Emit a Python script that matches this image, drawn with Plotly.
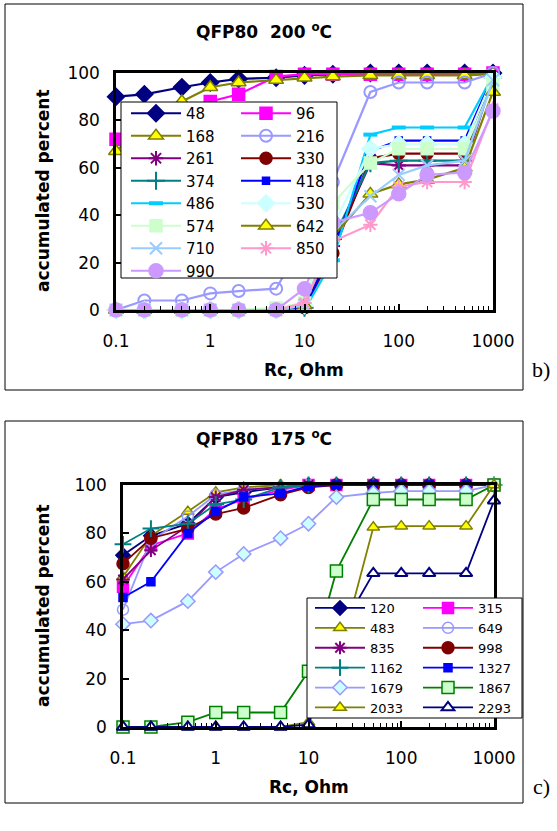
import plotly.graph_objects as go

W, H = 557, 831

# ---------------- data ----------------
rc = [0.1, 0.2, 0.5, 1, 2, 5, 10, 20, 50, 100, 200, 500, 1000]

# QFP80 200 C
t200_48  = [90, 91, 94, 96, 97.5, 98, 99, 99.5, 100, 100, 100, 100, 100]
t200_96  = [72, 78, 84, 88, 91, 98.5, 99.5, 99.5, 99.5, 99.5, 99.5, 99.5, 100]
t200_168 = [67, 78, 88, 94, 96, 97, 98, 98.5, 99, 99, 99, 99, 99.5]
t200_216 = [0, 4, 4, 7, 8, 9, 30, 54, 92, 96, 96, 96, 100]
t200_261 = [0, 0, 0, 0, 0, 0, 1, 27, 62, 61, 61, 61, 98]
t200_330 = [0, 0, 0, 0, 0, 0, 1, 24, 64, 66, 66, 66, 98]
t200_374 = [0, 0, 0, 0, 0, 0, 1, 30, 62, 63, 63, 63, 98]
t200_418 = [0, 0, 0, 0, 0, 0, 1, 26, 67, 71.5, 71.5, 71.5, 99]
t200_486 = [0, 0, 0, 0, 0, 0, 0, 21, 74, 77, 77, 77, 99]
t200_530 = [0, 0, 0, 0, 0, 0, 2, 35, 68, 70, 70, 70, 98]
t200_574 = [0, 0, 0, 0, 0, 1, 3, 45, 62, 68, 68, 68, 95]
t200_642 = [0, 0, 0, 0, 0, 0, 2, 31, 49, 53, 55, 60, 92]
t200_710 = [0, 0, 0, 0, 0, 0, 2, 33, 48, 57, 61, 63, 97]
t200_850 = [0, 0, 0, 0, 0, 0, 3, 29, 36, 52, 54, 54, 85]
t200_990 = [0, 0, 0, 0, 0, 0, 9, 37, 41, 49, 57, 58, 84]

# QFP80 175 C
t175_120  = [71, 79, 84, 95, 97, 99, 100, 100, 100, 100, 100, 100, 100]
t175_315  = [58, 75, 80, 90, 94, 98, 100, 100, 100, 100, 100, 100, 100]
t175_483  = [62, 79, 89, 97, 99, 100, 100, 100, 100, 100, 100, 100, 100]
t175_649  = [48.5, 77, 87, 96, 98, 99, 100, 100, 100, 100, 100, 100, 100]
t175_835  = [61, 73, 83, 95, 98, 99, 100, 100, 100, 100, 100, 100, 100]
t175_998  = [67.5, 78, 82, 88, 90.5, 96, 99, 100, 100, 100, 100, 100, 100]
t175_1162 = [75.5, 82, 84, 92, 94, 99, 100, 100, 100, 100, 100, 100, 100]
t175_1327 = [53.5, 60, 80, 89, 95, 96.5, 99.5, 100, 100, 100, 100, 100, 100]
t175_1679 = [42.5, 44, 52, 64, 71.5, 78, 84, 95, 96.7, 97.5, 97.5, 97.5, 100]
t175_1867 = [0, 0, 2, 6, 6, 6, 23, 64.5, 94, 94, 94, 94, 100]
t175_2033 = [0, 0, 0, 0, 0, 0, 2, 25, 82.5, 83, 83, 83, 100]
t175_2293 = [0, 0, 0, 0, 0, 0, 1, 37, 63.5, 63.5, 63.5, 63.5, 93.5]

xtick_vals = [0.1, 1, 10, 100, 1000]
xtick_text = ["0.1", "1", "10", "100", "1000"]
ytick_vals = [0, 20, 40, 60, 80, 100]

# ---------------- styling ----------------
NAVY, MAG, OLIVE, YEL = "#000080", "#FF00FF", "#808000", "#FFFF00"
LAV, PUR, DRED, TEAL, BLUE = "#9999FF", "#800080", "#800000", "#008080", "#0000FF"
CYAN, LCYAN, LGREEN, LBLUE, PINK, LILAC, GREEN = ("#00CCFF", "#CCFFFF", "#CCFFCC",
                                                  "#99CCFF", "#FF99CC", "#CC99FF", "#008000")
FONT = "DejaVu Sans"


def px(x):
    return x / W


def py(y):
    return 1 - y / H


def mk(symbol, size, fill, edge, ew=1.5):
    return dict(symbol=symbol, size=size, color=fill, line=dict(color=edge, width=ew))


top_series = [
    ("48", t200_48, NAVY, mk("diamond", 13, NAVY, NAVY)),
    ("96", t200_96, MAG, mk("square", 12, MAG, MAG)),
    ("168", t200_168, OLIVE, mk("triangle-up", 13, YEL, OLIVE)),
    ("216", t200_216, LAV, mk("circle-open", 12, LAV, LAV, 2)),
    ("261", t200_261, PUR, mk("asterisk-open", 12, PUR, PUR, 2)),
    ("330", t200_330, DRED, mk("circle", 12, DRED, DRED)),
    ("374", t200_374, TEAL, mk("cross-thin-open", 13, TEAL, TEAL, 2)),
    ("418", t200_418, BLUE, mk("square", 7, BLUE, BLUE)),
    ("486", t200_486, CYAN, mk("line-ew-open", 10, CYAN, CYAN, 4)),
    ("530", t200_530, LCYAN, mk("diamond", 13, LCYAN, LCYAN)),
    ("574", t200_574, LGREEN, mk("square", 12, LGREEN, LGREEN)),
    ("642", t200_642, OLIVE, mk("triangle-up", 13, YEL, OLIVE)),
    ("710", t200_710, LBLUE, mk("x-thin-open", 12, LBLUE, LBLUE, 2)),
    ("850", t200_850, PINK, mk("asterisk-open", 12, PINK, PINK, 2)),
    ("990", t200_990, LILAC, mk("circle", 14, LILAC, LILAC)),
]

bot_series = [
    ("120", t175_120, NAVY, mk("diamond", 11, NAVY, NAVY)),
    ("315", t175_315, MAG, mk("square", 11, MAG, MAG)),
    ("483", t175_483, OLIVE, mk("triangle-up", 11, YEL, OLIVE)),
    ("649", t175_649, LAV, mk("circle-open", 11, LAV, LAV, 1.5)),
    ("835", t175_835, PUR, mk("asterisk-open", 11, PUR, PUR, 2)),
    ("998", t175_998, DRED, mk("circle", 12, DRED, DRED)),
    ("1162", t175_1162, TEAL, mk("cross-thin-open", 12, TEAL, TEAL, 2)),
    ("1327", t175_1327, BLUE, mk("square", 8, BLUE, BLUE)),
    ("1679", t175_1679, LAV, mk("diamond", 11, LCYAN, LAV)),
    ("1867", t175_1867, GREEN, mk("square", 12, LGREEN, GREEN)),
    ("2033", t175_2033, OLIVE, mk("triangle-up", 11, YEL, OLIVE)),
    ("2293", t175_2293, NAVY, mk("triangle-up", 11, "white", NAVY, 2)),
]

fig = go.Figure()

for i, (name, vals, col, marker) in enumerate(top_series):
    fig.add_trace(go.Scatter(
        x=rc, y=vals, name=name, mode="lines+markers",
        line=dict(color=col, width=2.2), marker=marker, cliponaxis=False,
        xaxis="x", yaxis="y", legend="legend" if i % 2 == 0 else "legend2"))

for i, (name, vals, col, marker) in enumerate(bot_series):
    fig.add_trace(go.Scatter(
        x=rc, y=vals, name=name, mode="lines+markers",
        line=dict(color=col, width=1.8), marker=marker, cliponaxis=False,
        xaxis="x2", yaxis="y2", legend="legend3" if i % 2 == 0 else "legend4"))

minor_vals = [m * 10 ** e for e in (-1, 0, 1, 2) for m in range(2, 10)]


def xax(d0, d1, anchor):
    return dict(domain=[px(d0), px(d1)], anchor=anchor, type="log", range=[-1, 3],
                tickmode="array", tickvals=xtick_vals, ticktext=xtick_text,
                ticks="inside", ticklen=6, tickwidth=1.5, tickcolor="black",
                minor=dict(tickmode="array", tickvals=minor_vals, ticks="inside",
                           ticklen=4, tickwidth=1, tickcolor="black"),
                showline=True, linewidth=2.5, linecolor="black", mirror=True,
                showgrid=False, zeroline=False, ticklabelstandoff=14, automargin=False,
                tickfont=dict(family=FONT, size=17, color="black"))


def yax(d0, d1, anchor):
    return dict(domain=[py(d1), py(d0)], anchor=anchor, range=[0, 100],
                tickmode="array", tickvals=ytick_vals,
                ticks="inside", ticklen=6, tickwidth=1.5, tickcolor="black",
                showline=True, linewidth=2.5, linecolor="black", mirror=True,
                showgrid=False, zeroline=False, ticklabelstandoff=10, automargin=False,
                tickfont=dict(family=FONT, size=17, color="black"))


def leg(x, y, size):
    return dict(x=px(x), y=py(y), xanchor="left", yanchor="top",
                bgcolor="rgba(0,0,0,0)", borderwidth=0, itemwidth=50,
                tracegroupgap=0, font=dict(family=FONT, size=size, color="black"))


shapes = [
    dict(type="rect", xref="paper", yref="paper", x0=px(5), x1=px(523), y0=py(390), y1=py(4),
         line=dict(color="black", width=1), layer="below"),
    dict(type="rect", xref="paper", yref="paper", x0=px(5), x1=px(523), y0=py(803), y1=py(421),
         line=dict(color="black", width=1), layer="below"),
    dict(type="rect", xref="paper", yref="paper", x0=px(121), x1=px(337), y0=py(278), y1=py(102),
         line=dict(color="black", width=1), fillcolor="white", layer="above"),
    dict(type="rect", xref="paper", yref="paper", x0=px(307), x1=px(522), y0=py(718), y1=py(598),
         line=dict(color="black", width=1), fillcolor="white", layer="above"),
]


def ann(text, x, y, size, bold=True, angle=0, family=FONT, yanchor="middle"):
    return dict(text="<b>%s</b>" % text if bold else text, x=px(x), y=py(y),
                xref="paper", yref="paper", xanchor="center", yanchor=yanchor,
                showarrow=False, textangle=angle,
                font=dict(family=family, size=size, color="black"))


annotations = [
    ann("QFP80  200 <sup>o</sup>C", 264, 44, 17, yanchor="bottom"),
    ann("QFP80  175 <sup>o</sup>C", 264, 451, 17, yanchor="bottom"),
    ann("accumulated percent", 43, 191, 17, angle=-90),
    ann("accumulated percent", 43, 606, 17, angle=-90),
    ann("Rc, Ohm", 304, 370, 17),
    ann("Rc, Ohm", 309, 787, 17),
    ann("b)", 541, 369, 22, bold=False, family="Liberation Serif"),
    ann("c)", 541, 786, 22, bold=False, family="Liberation Serif"),
]

fig.update_layout(
    width=W, height=H, margin=dict(l=0, r=0, t=0, b=0, pad=0, autoexpand=False),
    paper_bgcolor="white", plot_bgcolor="white", showlegend=True,
    xaxis=xax(116, 493, "y"), yaxis=yax(73, 310, "x"),
    xaxis2=xax(123, 494, "y2"), yaxis2=yax(485, 727, "x2"),
    legend=leg(126, 97, 15), legend2=leg(236, 97, 15),
    legend3=leg(310, 593, 13), legend4=leg(418, 593, 13),
    shapes=shapes, annotations=annotations,
)

fig.write_html("out.html", config={"displayModeBar": False},
               post_script="document.body.style.margin='0px';")
